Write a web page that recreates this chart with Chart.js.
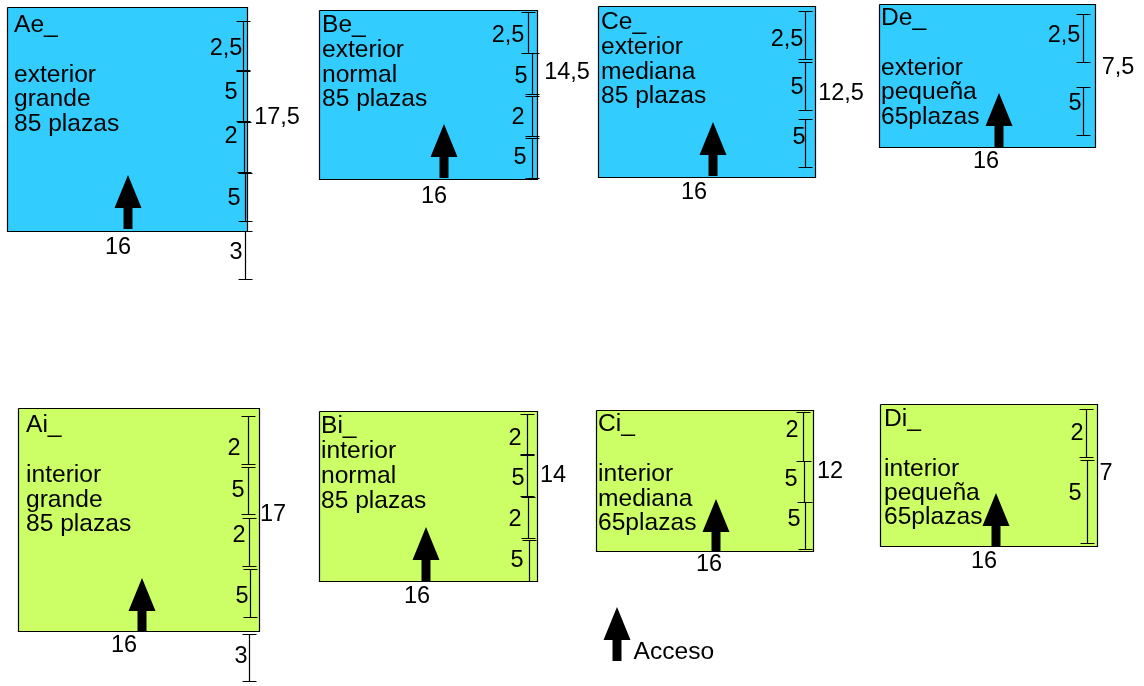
<!DOCTYPE html>
<html lang="es">
  <head>
    <meta charset="UTF-8" />
    <title>Tipos de plazas</title>
    <style>
      html, body { margin: 0; padding: 0; background: #fff; }
      canvas { display: block; }
    </style>
  </head>

  <body>
    <canvas id="myChart" width="1144" height="686"></canvas>

    <script src="https://cdn.jsdelivr.net/npm/chart.js"></script>
    <script>
      const blocks = ["Ae", "Be", "Ce", "De", "Ai", "Bi", "Ci", "Di"];
      const blockLeft = [7, 319, 598, 879, 18, 319, 596, 880];
      const blockTop = [7, 10, 6, 4, 408, 411, 410, 404];
      const blockRight = [247, 537, 815, 1095, 259, 537, 813, 1097];
      const blockBottom = [231, 179, 177, 147, 631, 581, 551, 546];
      const blockColor = ["#33ccff", "#33ccff", "#33ccff", "#33ccff", "#ccff66", "#ccff66", "#ccff66", "#ccff66"];

      const textLines = [
        ["Ae_", "exterior", "grande", "85 plazas"],
        ["Be_", "exterior", "normal", "85 plazas"],
        ["Ce_", "exterior", "mediana", "85 plazas"],
        ["De_", "exterior", "pequeña", "65plazas"],
        ["Ai_", "interior", "grande", "85 plazas"],
        ["Bi_", "interior", "normal", "85 plazas"],
        ["Ci_", "interior", "mediana", "65plazas"],
        ["Di_", "interior", "pequeña", "65plazas"],
      ];
      const textX = [14, 322, 601, 881, 26, 321, 598, 884];
      const textY = [
        [32, 82, 106, 131],
        [32, 57, 82, 106],
        [29, 54, 79, 103],
        [25, 75, 99, 124],
        [432, 482, 507, 531],
        [433, 458, 483, 508],
        [431, 481, 506, 530],
        [426, 476, 500, 524],
      ];

      // arrows: block arrows first, the legend one last
      const arrowX = [128, 444, 713, 999, 142, 426, 716, 996, 617];
      const arrowTip = [175, 124, 122, 93, 578, 527, 499, 493, 607];
      const arrowFoot = [229, 178, 176, 147, 631, 581, 551, 546, 661];

      const segX = [243, 243, 244, 245.5, 245, 528, 532, 532, 532, 805.5, 805.5, 805.5, 1083, 1083.5,
        248, 248, 249, 250, 249, 527, 527, 528, 529, 803, 804, 805, 1086.5, 1087.5];
      const segTop = [21, 71, 122, 173, 231, 12, 53, 96, 138, 11, 62, 119, 14, 87,
        416, 467, 518, 569, 634, 414, 455, 497, 540, 412, 461, 502, 409, 460];
      const segBottom = [70, 121, 172, 221, 279, 53, 94, 136, 178, 59, 110, 167, 62, 135,
        464, 514, 566, 617, 681, 454, 496, 538, 581, 461, 502, 549, 457, 543];

      const dimLabels = ["2,5", "5", "2", "5", "3", "17,5", "16",
        "2,5", "5", "2", "5", "14,5", "16",
        "2,5", "5", "5", "12,5", "16",
        "2,5", "5", "7,5", "16",
        "2", "5", "2", "5", "3", "17", "16",
        "2", "5", "2", "5", "14", "16",
        "2", "5", "5", "12", "16",
        "2", "5", "7", "16"];
      const dimX = [226, 231, 231, 234, 236, 277, 118,
        508, 521, 518, 520, 567, 434,
        787, 797, 799, 841, 694,
        1064, 1075, 1118, 986,
        234, 238, 239, 242, 241, 273, 124,
        515, 518, 515, 517, 553, 417,
        792, 791, 794, 830, 709,
        1077, 1075, 1106, 984];
      const dimY = [47, 91, 135, 197, 251, 116, 246,
        34, 75, 116, 156, 71, 195,
        38, 86, 136, 92, 191,
        34, 102, 66, 160,
        447, 489, 534, 595, 655, 513, 644,
        437, 477, 518, 559, 474, 595,
        429, 478, 518, 470, 563,
        432, 492, 472, 560];

      const legendText = "Acceso";
      const legendX = 633.5;
      const legendY = 659;

      const textFont = '24.6px "Liberation Sans", Arial, sans-serif';
      const dimFont = '23.5px "Liberation Sans", Arial, sans-serif';
      const tick = 7;

      // keeps thin lines crisp
      const snap = (v) => Math.floor(v) + 0.5;

      function arrowPoints(i) {
        const x = arrowX[i];
        const neck = arrowTip[i] + 33;
        return [
          { x: x, y: arrowTip[i] },
          { x: x + 13.5, y: neck },
          { x: x + 4.5, y: neck },
          { x: x + 4.5, y: arrowFoot[i] },
          { x: x - 4.5, y: arrowFoot[i] },
          { x: x - 4.5, y: neck },
          { x: x - 13.5, y: neck },
          { x: x, y: arrowTip[i] },
        ];
      }

      const datasets = [];

      arrowX.forEach((_, i) => {
        datasets.push({
          data: arrowPoints(i),
          borderColor: "#000",
          borderWidth: 0,
          backgroundColor: "#000",
          fill: "shape",
          order: 1,
        });
      });

      segX.forEach((v, i) => {
        const x = snap(v);
        const top = snap(segTop[i]);
        const bottom = snap(segBottom[i]);
        datasets.push({
          data: [
            { x: x - tick, y: top },
            { x: x + tick, y: top },
            { x: x, y: top },
            { x: x, y: bottom },
            { x: x - tick, y: bottom },
            { x: x + tick, y: bottom },
          ],
          borderColor: "#000",
          borderWidth: 1.2,
          fill: false,
          order: 2,
        });
      });

      blocks.forEach((_, i) => {
        const left = snap(blockLeft[i]);
        const right = snap(blockRight[i]);
        const top = snap(blockTop[i]);
        const bottom = snap(blockBottom[i]);
        datasets.push({
          data: [
            { x: left, y: top },
            { x: right, y: top },
            { x: right, y: bottom },
            { x: left, y: bottom },
            { x: left, y: top },
          ],
          borderColor: "#000",
          borderWidth: 1.2,
          backgroundColor: blockColor[i],
          fill: "shape",
          order: 3,
        });
      });

      // texts go through the same scales as the marks
      const sheetText = {
        id: "sheetText",
        afterDatasetsDraw(chart) {
          const { ctx, scales } = chart;
          ctx.save();
          ctx.fillStyle = "#000";
          ctx.textBaseline = "alphabetic";

          ctx.font = textFont;
          ctx.textAlign = "left";
          textLines.forEach((lines, i) => {
            lines.forEach((line, j) => {
              ctx.fillText(line, scales.x.getPixelForValue(textX[i]), scales.y.getPixelForValue(textY[i][j]));
            });
          });
          ctx.fillText(legendText, scales.x.getPixelForValue(legendX), scales.y.getPixelForValue(legendY));

          ctx.font = dimFont;
          ctx.textAlign = "center";
          dimLabels.forEach((label, i) => {
            ctx.fillText(label, scales.x.getPixelForValue(dimX[i]), scales.y.getPixelForValue(dimY[i] + 7.5));
          });
          ctx.restore();
        },
      };

      new Chart(document.getElementById("myChart"), {
        type: "scatter",
        data: { datasets: datasets },
        plugins: [sheetText],
        options: {
          responsive: false,
          animation: false,
          showLine: true,
          layout: { padding: 0 },
          elements: {
            point: { radius: 0, hoverRadius: 0 },
            line: { tension: 0 },
          },
          plugins: {
            legend: { display: false },
            tooltip: { enabled: false },
          },
          events: [],
          scales: {
            x: { type: "linear", min: 0, max: 1144, display: false },
            y: { type: "linear", min: 0, max: 686, reverse: true, display: false },
          },
        },
      });
    </script>
  </body>
</html>
